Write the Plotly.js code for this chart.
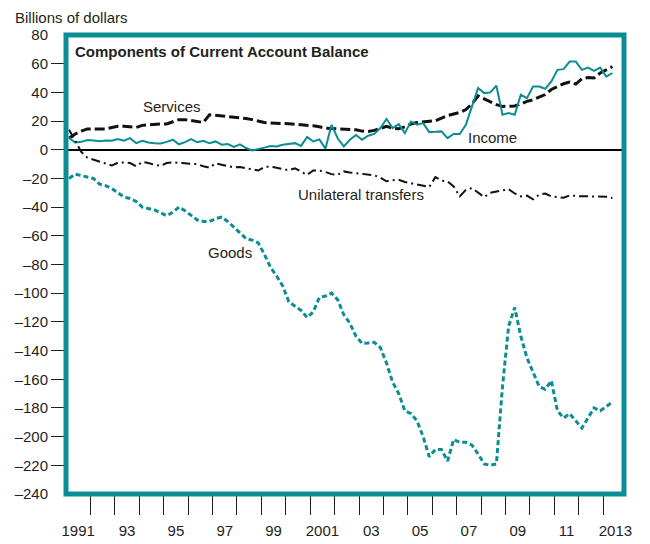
<!DOCTYPE html>
<html><head><meta charset="utf-8">
<script src="https://cdn.plot.ly/plotly-3.0.1.min.js"></script>
<style>html,body{margin:0;padding:0;background:#fff}#chart{width:650px;height:544px}</style>
</head><body><div id="chart"></div>
<script>
// Quarterly data, 1991Q1 - 2013Q2, billions of dollars
const firstYear = 1991;
const goods = [-20,-17,-18,-19,-20,-24,-25,-27,-30,-33,
  -34,-36,-40,-41,-42,-44,-46,-43.5,-40,-42.5,
  -46,-49,-50,-50,-48,-47,-50,-54,-58,-62,
  -63,-65,-73,-82,-88,-95,-106,-109,-112,-117,
  -113,-103,-102,-100,-104.5,-115,-121,-130,-135,-134.7,
  -134.3,-138,-148.7,-162,-170,-182,-184,-189,-200,-214,
  -209,-209,-217,-202,-204,-204,-206,-212,-219,-220,
  -219,-165,-123,-110,-130,-145,-155,-165,-167,-161,
  -182,-187,-184,-189,-194,-187,-180,-182,-179,-176];
const services = [8,11,13,14.5,14.5,14.5,14.5,15.5,16.3,16.3,
  16,15.6,17,17.5,18,18,18,19.5,21,21,
  20.5,19.7,19,24.4,24,23.8,23.3,22.8,22.2,21.8,
  21,19.8,19,18.6,18.6,18.4,18.1,17.8,17.4,17.4,
  16.7,16,15.1,14.8,14.6,14.6,14.3,13.9,13,12.8,
  13.5,14.8,16.3,15.1,14.6,16,18,19,19.5,19.7,
  20.2,22,23.8,24.9,26,28,32,37.5,35.5,33,
  31.4,30.2,30.2,30.5,32,33.7,34.8,36.5,38.5,42,
  44,46,47.2,45.8,49.5,50.4,50,53.5,55.7,58];
const income = [8.3,5,5.5,6.8,6.5,6,6.5,6.3,7.5,6.3,
  8.1,4.6,6.3,5,4.5,4.3,5.5,7,3.8,5.3,
  7.4,5.2,6.3,4.5,5.8,3.5,4,2,3.8,1.2,
  -0.5,0.3,1.5,2.6,2.3,3.5,3.8,4.6,2.7,9,
  5.8,7.2,0.8,17.4,8,2.3,7,10.3,7,9.8,
  11,15.1,21.4,15.1,17.9,11.6,19.7,17.4,18.6,12.3,
  12.5,12.8,8.1,11,11,17.4,30.2,43,39.5,40,
  44.6,24.4,25.6,24.4,38.3,36,44.1,44.1,42.5,47.6,
  55.7,56.2,61.5,61.5,55.7,57.3,55,57.3,51,53.5];
const transfers = [14,6,-1.5,-5.5,-7,-8.2,-9.5,-11,-9,-8.8,
  -9.3,-11.6,-8.5,-9.2,-10.5,-11.2,-9.3,-8.7,-9.2,-9.3,
  -9.8,-10,-11.5,-12.5,-9.5,-10.3,-11,-12.3,-12,-13,
  -14,-14.5,-12,-11.8,-12.5,-13.5,-14.3,-13,-15,-17.5,
  -14.5,-14.5,-15.5,-17,-17.5,-15.1,-15.8,-16.3,-17,-17.4,
  -17.8,-19.5,-22,-21.2,-21,-22.5,-23.5,-24,-25,-26,
  -19,-21.5,-22,-25.6,-32.5,-28,-26.7,-30,-33,-30,
  -29,-28,-27.5,-30.5,-32.5,-32,-34.5,-31.3,-30.5,-32.5,
  -33,-33.5,-31.8,-32.3,-32.5,-32.5,-32.5,-32.5,-32.8,-33.7];

const yTickVals = [80,60,40,20,0,-20,-40,-60,-80,-100,-120,-140,-160,-180,-200,-220,-240];
const yTickText = ["80","60","40","20","0","–20","–40","–60","–80","–100","–120","–140","–160","–180","–200","–220","–240"];
const xTickYears = [1992,1993,1994,1995,1996,1997,1998,1999,2000,2001,2002,2003,2004,2005,2006,2007,2008,2009,2010,2011,2012,2013];
const xLabelYears = [1991,1993,1995,1997,1999,2001,2003,2005,2007,2009,2011,2013];
const xLabelText = ["1991","93","95","97","99","2001","03","05","07","09","11","2013"];

const seriesNames = ["Goods","Services","Income","Unilateral transfers"];
const labelX = [1997.7,1995.35,2008.47,2003.1];
const labelY = [-71.8,30.3,8.4,-31.4];

// quarter mid-points on the year axis
const quarters = goods.map((_, i) => firstYear + 0.125 + 0.25 * i);

const teal = '#0b8d94';
const ink = '#231f20';

const traces = [
  {x: quarters, y: goods, type:'scatter', mode:'lines', name: seriesNames[0],
   line:{color:teal, width:3, dash:'5px,3px'}, hoverinfo:'skip'},
  {x: quarters, y: services, type:'scatter', mode:'lines', name: seriesNames[1],
   line:{color:'#111', width:3, dash:'10px,4px'}, hoverinfo:'skip'},
  {x: quarters, y: income, type:'scatter', mode:'lines', name: seriesNames[2],
   line:{color:teal, width:2}, hoverinfo:'skip'},
  {x: quarters, y: transfers, type:'scatter', mode:'lines', name: seriesNames[3],
   line:{color:'#111', width:2, dash:'9px,4px,2px,4px'}, hoverinfo:'skip'},
  {x: [], y: [], xaxis:'x2', yaxis:'y2', type:'scatter', mode:'lines', hoverinfo:'skip'}
];

const annotations = seriesNames.map((n, k) => ({
  x: labelX[k], y: labelY[k], xref:'x', yref:'y', text:n, showarrow:false,
  xanchor:'center', yanchor:'middle', font:{size:15, color:ink}
}));
annotations.push({x:0.0125, y:0.965, xref:'paper', yref:'paper', xanchor:'left', yanchor:'middle',
  text:'<b>Components of Current Account Balance</b>', showarrow:false, font:{size:15, color:ink}});
annotations.push({x:-0.0955, y:1.039, xref:'paper', yref:'paper', xanchor:'left', yanchor:'middle',
  text:'Billions of dollars', showarrow:false, font:{size:15, color:ink}});

const xRange = [1991, 2013.85];
const layout = {
  width:650, height:544,
  margin:{l:66, r:26, t:35, b:50, pad:0},
  paper_bgcolor:'#fff', plot_bgcolor:'#fff',
  showlegend:false,
  font:{family:'"Liberation Sans", Arial, sans-serif', size:15, color:ink},
  xaxis:{range:xRange, tickvals:xTickYears, ticks:'outside', ticklen:20, tickwidth:1, tickcolor:ink,
    showticklabels:false, showgrid:false, zeroline:false, showline:false, fixedrange:true},
  xaxis2:{overlaying:'x', anchor:'y', side:'bottom', range:xRange,
    tickvals:xLabelYears.map(y => y + 0.5), ticktext:xLabelText,
    ticks:'outside', ticklen:23, tickcolor:'rgba(0,0,0,0)',
    showgrid:false, zeroline:false, showline:false, fixedrange:true},
  yaxis:{range:[-240,80], tickvals:yTickVals, ticktext:yTickText, ticks:'outside', ticklen:14,
    tickcolor:'rgba(0,0,0,0)', showgrid:false, zeroline:true, zerolinecolor:'#000', zerolinewidth:2,
    showline:false, fixedrange:true},
  yaxis2:{overlaying:'y', anchor:'x', side:'left', range:[-240,80], tickvals:yTickVals.slice(1,-1),
    ticks:'outside', ticklen:14, tickwidth:1, tickcolor:ink, showticklabels:false,
    showgrid:false, zeroline:false, showline:false, fixedrange:true},
  shapes:[{type:'rect', xref:'paper', yref:'paper', x0:0, x1:1, y0:0, y1:1,
    line:{color:teal, width:5}, layer:'above'}],
  annotations: annotations
};

Plotly.newPlot('chart', traces, layout, {displayModeBar:false, staticPlot:true});
</script>
</body></html>
